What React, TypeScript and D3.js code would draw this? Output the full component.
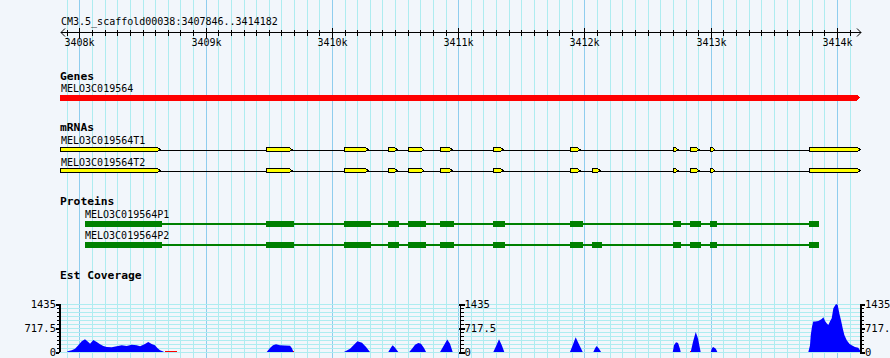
import React from "react";
import * as d3 from "d3";

const REGION_START = 3407846;
const REGION_END = 3414182;
const TITLE = "CM3.5_scaffold00038:3407846..3414182";
const GENE_NAME = "MELO3C019564";
const TRANSCRIPT_NAMES = ["MELO3C019564T1", "MELO3C019564T2"];
const PROTEIN_NAMES = ["MELO3C019564P1", "MELO3C019564P2"];
const TRACK_LABELS = ["Genes", "mRNAs", "Proteins", "Est Coverage"];
const COVERAGE_MAX = 1435;
const COVERAGE_TICK_LABELS = ["0", "717.5", "1435"];

const T1_EXONS: [number, number][] = [
  [3407846, 3408638], [3409480, 3409683], [3410098, 3410285], [3410446, 3410515],
  [3410604, 3410726], [3410856, 3410951], [3411278, 3411355], [3411885, 3411964],
  [3412703, 3412740], [3412836, 3412905], [3412994, 3413031], [3413780, 3414182],
];
const T2_EXONS: [number, number][] = [
  [3407846, 3408638], [3409480, 3409683], [3410098, 3410285], [3410446, 3410515],
  [3410604, 3410726], [3410856, 3410951], [3411278, 3411355], [3411885, 3411964],
  [3412062, 3412123], [3412703, 3412740], [3412836, 3412905], [3412994, 3413031],
  [3413780, 3414182],
];
const P1_CDS: [number, number][] = [
  [3408044, 3408651], [3409478, 3409697], [3410095, 3410307], [3410444, 3410531],
  [3410602, 3410742], [3410856, 3410967], [3411275, 3411370], [3411885, 3411988],
  [3412701, 3412764], [3412836, 3412920], [3412994, 3413049], [3413778, 3413857],
];
const P2_CDS: [number, number][] = [
  [3408044, 3408651], [3409478, 3409697], [3410095, 3410307], [3410444, 3410531],
  [3410602, 3410742], [3410856, 3410967], [3411275, 3411370], [3411885, 3411988],
  [3412059, 3412138], [3412701, 3412764], [3412836, 3412920], [3412994, 3413049],
  [3413778, 3413857],
];

// coverage: [position, value]
const COVERAGE: [number, number][] = [
  [3407900, 0], [3407907, 20], [3407939, 50], [3407965, 100], [3407991, 200], [3408018, 320],
  [3408044, 380], [3408070, 300], [3408084, 250], [3408110, 360], [3408137, 300],
  [3408163, 230], [3408189, 180], [3408216, 150], [3408256, 140], [3408295, 170],
  [3408335, 200], [3408374, 180], [3408414, 220], [3408453, 200], [3408480, 170],
  [3408519, 240], [3408545, 300], [3408572, 240], [3408598, 200], [3408617, 120],
  [3408638, 50], [3408659, 20], [3408670, 0],
  [3409483, 0], [3409509, 120], [3409533, 200], [3409557, 235], [3409588, 205],
  [3409628, 195], [3409668, 185], [3409683, 110], [3409695, 0],
  [3410095, 0], [3410143, 100], [3410182, 250], [3410202, 320], [3410238, 280],
  [3410270, 150], [3410301, 0],
  [3410446, 0], [3410470, 150], [3410481, 200], [3410500, 130], [3410525, 0],
  [3410612, 0], [3410634, 100], [3410658, 220], [3410684, 270], [3410705, 250],
  [3410729, 120], [3410745, 0],
  [3410856, 0], [3410887, 200], [3410913, 370], [3410935, 250], [3410956, 0],
  [3411278, 0], [3411300, 180], [3411323, 380], [3411345, 200], [3411365, 0],
  [3411885, 0], [3411908, 220], [3411930, 440], [3411958, 220], [3411986, 0],
  [3412070, 0], [3412085, 120], [3412097, 180], [3412115, 100], [3412131, 0],
  [3412699, 0], [3412709, 200], [3412725, 290], [3412741, 270], [3412756, 100], [3412762, 0],
  [3412841, 0], [3412859, 300], [3412881, 600], [3412899, 400], [3412920, 0],
  [3413000, 0], [3413010, 120], [3413020, 150], [3413040, 100], [3413052, 0],
  [3413773, 0], [3413786, 200], [3413792, 505], [3413802, 760], [3413812, 910],
  [3413826, 910], [3413852, 930], [3413879, 990], [3413892, 1040], [3413905, 930],
  [3413918, 860], [3413931, 810], [3413944, 910], [3413958, 1010], [3413971, 1310],
  [3413992, 1435], [3414005, 1415], [3414018, 1160], [3414031, 960], [3414045, 707],
  [3414058, 505], [3414077, 355], [3414098, 250], [3414116, 200], [3414142, 150],
  [3414168, 130], [3414182, 50],
];
// low-coverage spans drawn in red
const LOW_COVERAGE: [number, number][] = [
  [3408678, 3408773], [3409690, 3409700], [3412836, 3412844],
];

const MONO = "'DejaVu Sans Mono', monospace";

export default function App() {
  const W = 890, H = 358;
  const x = d3.scaleLinear().domain([REGION_START, REGION_END]).range([60, 860]);
  const yCov = d3.scaleLinear().domain([0, COVERAGE_MAX]).range([352, 304]);

  const gridPositions = d3.range(Math.ceil(REGION_START / 100) * 100, REGION_END, 100);
  const axisY = 32.5;

  const exonPath = (s: number, e: number, top: number, h: number) => {
    const x0 = Math.round(x(s)) + 0.5;
    const x1 = x(e);
    const tip = 2.5;
    const mid = top + h / 2;
    return `M${x0},${top}L${x1 - tip},${top}L${x1},${mid}L${x1 - tip},${top + h}L${x0},${top + h}Z`;
  };

  const transcript = (exons: [number, number][], top: number) => {
    const mid = top + 2.5;
    return (
      <g>
        <line x1={x(exons[0][0])} x2={x(exons[exons.length - 1][1])} y1={mid} y2={mid} stroke="#000" strokeWidth={1} />
        {exons.map((ex, i) => (
          <path key={i} d={exonPath(ex[0], ex[1], top, 4)} fill="#ffff00" stroke="#000" strokeWidth={1} />
        ))}
      </g>
    );
  };

  const protein = (cds: [number, number][], top: number) => {
    const mid = top + 3;
    return (
      <g>
        <line x1={x(cds[0][0])} x2={x(cds[cds.length - 1][1])} y1={mid} y2={mid} stroke="#008000" strokeWidth={1.2} />
        {cds.map((c, i) => (
          <rect key={i} x={x(c[0])} y={top} width={x(c[1]) - x(c[0])} height={6} fill="#008000" />
        ))}
      </g>
    );
  };

  const area = d3.area<[number, number]>()
    .x((d) => x(d[0]))
    .y0(yCov(0))
    .y1((d) => yCov(d[1]));

  const covGrid = d3.range(0, 13).map((i) => (COVERAGE_MAX / 12) * i);
  const covTickVals = [0, COVERAGE_MAX / 2, COVERAGE_MAX];

  const yAxis = (ax: number, side: "left" | "right") => {
    const dir = side === "left" ? -1 : 1;
    return (
      <g>
        <line x1={ax} x2={ax} y1={yCov(COVERAGE_MAX)} y2={yCov(0)} stroke="#000" strokeWidth={1.5} />
        {covGrid.map((v, i) => (
          <line key={i} x1={ax} x2={ax + dir * 3} y1={Math.round(yCov(v)) + 0.5} y2={Math.round(yCov(v)) + 0.5} stroke="#000" strokeWidth={1} />
        ))}
        {covTickVals.map((v, i) => (
          <g key={"m" + i}>
            <line x1={ax - 1.5} x2={ax + dir * 4} y1={Math.round(yCov(v)) + 0.5} y2={Math.round(yCov(v)) + 0.5} stroke="#000" strokeWidth={2} />
            <text x={ax + dir * 4} y={yCov(v) + 4} fontFamily={MONO} fontSize={10.5} textAnchor={side === "left" ? "end" : "start"} fill="#000">
              {COVERAGE_TICK_LABELS[i]}
            </text>
          </g>
        ))}
      </g>
    );
  };

  return (
    <svg width={W} height={H} style={{ position: "absolute", left: 0, top: 0, display: "block" }} shapeRendering="crispEdges">
      <rect x={0} y={0} width={W} height={H} fill="#f2f6fb" />
      {gridPositions.map((p) => (
        <line key={p} x1={Math.round(x(p)) + 0.5} x2={Math.round(x(p)) + 0.5} y1={0} y2={H}
          stroke={p % 1000 === 0 ? "#8fcdee" : "#aeecf0"} strokeWidth={1} />
      ))}
      {covGrid.map((v, i) => (
        <line key={"h" + i} x1={60} x2={861} y1={Math.round(yCov(v)) + 0.5} y2={Math.round(yCov(v)) + 0.5} stroke="#aeecf0" strokeWidth={1} />
      ))}

      {/* ruler */}
      <text x={61} y={25} fontFamily={MONO} fontSize={10} fill="#000">{TITLE}</text>
      <line x1={61} x2={861} y1={axisY} y2={axisY} stroke="#000" strokeWidth={1} />
      <path d={`M65,${axisY - 4}L61,${axisY}L65,${axisY + 4}`} fill="none" stroke="#000" strokeWidth={1} shapeRendering="auto" />
      <path d={`M857,${axisY - 4}L861,${axisY}L857,${axisY + 4}`} fill="none" stroke="#000" strokeWidth={1} shapeRendering="auto" />
      {gridPositions.map((p) => {
        const major = p % 1000 === 0;
        const px = Math.round(x(p)) + 0.5;
        return (
          <g key={"t" + p}>
            <line x1={px} x2={px} y1={major ? 27.5 : 29.5} y2={major ? 37.5 : 35.5} stroke="#000" strokeWidth={1} />
            {major && (
              <text x={px} y={46} fontFamily={MONO} fontSize={10} textAnchor="middle" fill="#000">{p / 1000}k</text>
            )}
          </g>
        );
      })}

      {/* Genes */}
      <text x={60} y={80} fontFamily={MONO} fontSize={11.3} fontWeight="bold" fill="#000">{TRACK_LABELS[0]}</text>
      <text x={61} y={91.5} fontFamily={MONO} fontSize={10} fill="#000">{GENE_NAME}</text>
      <path d={`M${x(REGION_START)},94.5L${x(REGION_END) - 3},94.5L${x(REGION_END)},97.5L${x(REGION_END) - 3},100.5L${x(REGION_START)},100.5Z`} fill="#ff0000" />

      {/* mRNAs */}
      <text x={60} y={131} fontFamily={MONO} fontSize={11.3} fontWeight="bold" fill="#000">{TRACK_LABELS[1]}</text>
      <text x={61} y={144} fontFamily={MONO} fontSize={10} fill="#000">{TRANSCRIPT_NAMES[0]}</text>
      {transcript(T1_EXONS, 147.5)}
      <text x={61} y={165.5} fontFamily={MONO} fontSize={10} fill="#000">{TRANSCRIPT_NAMES[1]}</text>
      {transcript(T2_EXONS, 168.5)}

      {/* Proteins */}
      <text x={60} y={205} fontFamily={MONO} fontSize={11.3} fontWeight="bold" fill="#000">{TRACK_LABELS[2]}</text>
      <text x={85} y={218} fontFamily={MONO} fontSize={10} fill="#000">{PROTEIN_NAMES[0]}</text>
      {protein(P1_CDS, 221)}
      <text x={85} y={239} fontFamily={MONO} fontSize={10} fill="#000">{PROTEIN_NAMES[1]}</text>
      {protein(P2_CDS, 242)}

      {/* Est Coverage */}
      <text x={60} y={279} fontFamily={MONO} fontSize={11.3} fontWeight="bold" fill="#000">{TRACK_LABELS[3]}</text>
      <path d={area(COVERAGE) || ""} fill="#0000ff" shapeRendering="auto" />
      {LOW_COVERAGE.map((s, i) => (
        <rect key={"lc" + i} x={x(s[0])} y={yCov(0) - 1.5} width={x(s[1]) - x(s[0])} height={1.5} fill="#ff0000" />
      ))}
      {yAxis(60, "left")}
      {yAxis(460.5, "right")}
      {yAxis(861, "right")}
    </svg>
  );
}
